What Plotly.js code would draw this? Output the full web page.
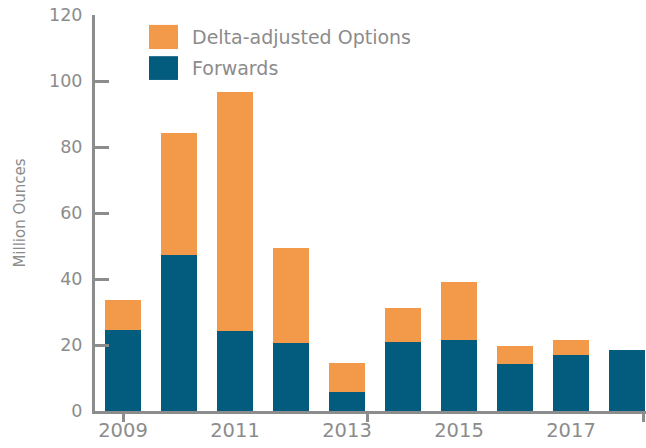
<!DOCTYPE html>
<html>
<head>
<meta charset="utf-8">
<script src="https://cdn.plot.ly/plotly-3.0.1.min.js"></script>
<style>html,body{margin:0;padding:0;background:#fff;}#chart{width:646px;height:448px;}</style>
</head>
<body>
<div id="chart"></div>
<script>
const years = [2009, 2010, 2011, 2012, 2013, 2014, 2015, 2016, 2017, 2018];
const forwards = [24.5, 47.3, 24.2, 20.6, 5.8, 20.9, 21.5, 14.2, 17.0, 18.5];
const options = [9.1, 36.9, 72.5, 28.8, 8.7, 10.3, 17.6, 5.5, 4.5, 0];
const seriesNames = ["Delta-adjusted Options", "Forwards"];
const seriesColors = ["#F2994A", "#035B7E"];
const xTickVals = [2009, 2011, 2013, 2015, 2017];
const xTickText = ["2009", "2011", "2013", "2015", "2017"];
const xTickMarks = [2009, 2013.375, 2018.29];
const yTickVals = [0, 20, 40, 60, 80, 100, 120];
const yTitle = "Million Ounces";

const grey = "#8c8c8c";
const font = "DejaVu Sans, sans-serif";

const traces = [
  {type: "bar", x: years, y: forwards, name: seriesNames[1], marker: {color: seriesColors[1]}, showlegend: false, hoverinfo: "x+y+name"},
  {type: "bar", x: years, y: options, name: seriesNames[0], marker: {color: seriesColors[0]}, showlegend: false, hoverinfo: "x+y+name"},
  {type: "scatter", x: [], y: [], xaxis: "x2", yaxis: "y", showlegend: false}
];

const layout = {
  width: 646, height: 448,
  margin: {l: 95, r: 0, t: 15, b: 37},
  paper_bgcolor: "#ffffff", plot_bgcolor: "#ffffff",
  barmode: "stack", bargap: 0.357,
  font: {family: font, color: grey},
  xaxis: {
    range: [2008.5, 2018.34], tickmode: "array", tickvals: xTickVals, ticktext: xTickText,
    ticks: "", showgrid: false, zeroline: false, showline: true, linecolor: grey, linewidth: 3,
    tickfont: {size: 19.5, color: grey, family: font}, fixedrange: true
  },
  xaxis2: {
    overlaying: "x", matches: "x", range: [2008.5, 2018.34], side: "bottom", anchor: "y",
    tickmode: "array", tickvals: xTickMarks, ticks: "outside", ticklen: 10, tickwidth: 3, tickcolor: grey,
    showticklabels: false, showgrid: false, zeroline: false, showline: false
  },
  yaxis: {
    range: [0, 120], tickmode: "array", tickvals: yTickVals,
    ticks: "inside", ticklen: 14, tickwidth: 3, tickcolor: grey,
    showgrid: false, zeroline: false, showline: true, linecolor: grey, linewidth: 3,
    tickfont: {size: 17.5, color: grey, family: font}, ticklabelstandoff: 6,
    title: {text: yTitle, font: {size: 15, color: grey, family: font}, standoff: 20},
    fixedrange: true
  },
  shapes: [
    {type: "rect", xref: "paper", yref: "paper", x0: 0.098, x1: 0.1506, y0: 0.914, y1: 0.975, fillcolor: seriesColors[0], line: {width: 0}},
    {type: "rect", xref: "paper", yref: "paper", x0: 0.098, x1: 0.1506, y0: 0.836, y1: 0.896, fillcolor: seriesColors[1], line: {width: 0}}
  ],
  annotations: [
    {xref: "paper", yref: "paper", x: 0.172, y: 0.944, xanchor: "left", yanchor: "middle", text: seriesNames[0], showarrow: false, font: {size: 19, color: grey, family: font}},
    {xref: "paper", yref: "paper", x: 0.172, y: 0.866, xanchor: "left", yanchor: "middle", text: seriesNames[1], showarrow: false, font: {size: 19, color: grey, family: font}}
  ]
};

Plotly.newPlot("chart", traces, layout, {displayModeBar: false, staticPlot: true});
</script>
</body>
</html>
